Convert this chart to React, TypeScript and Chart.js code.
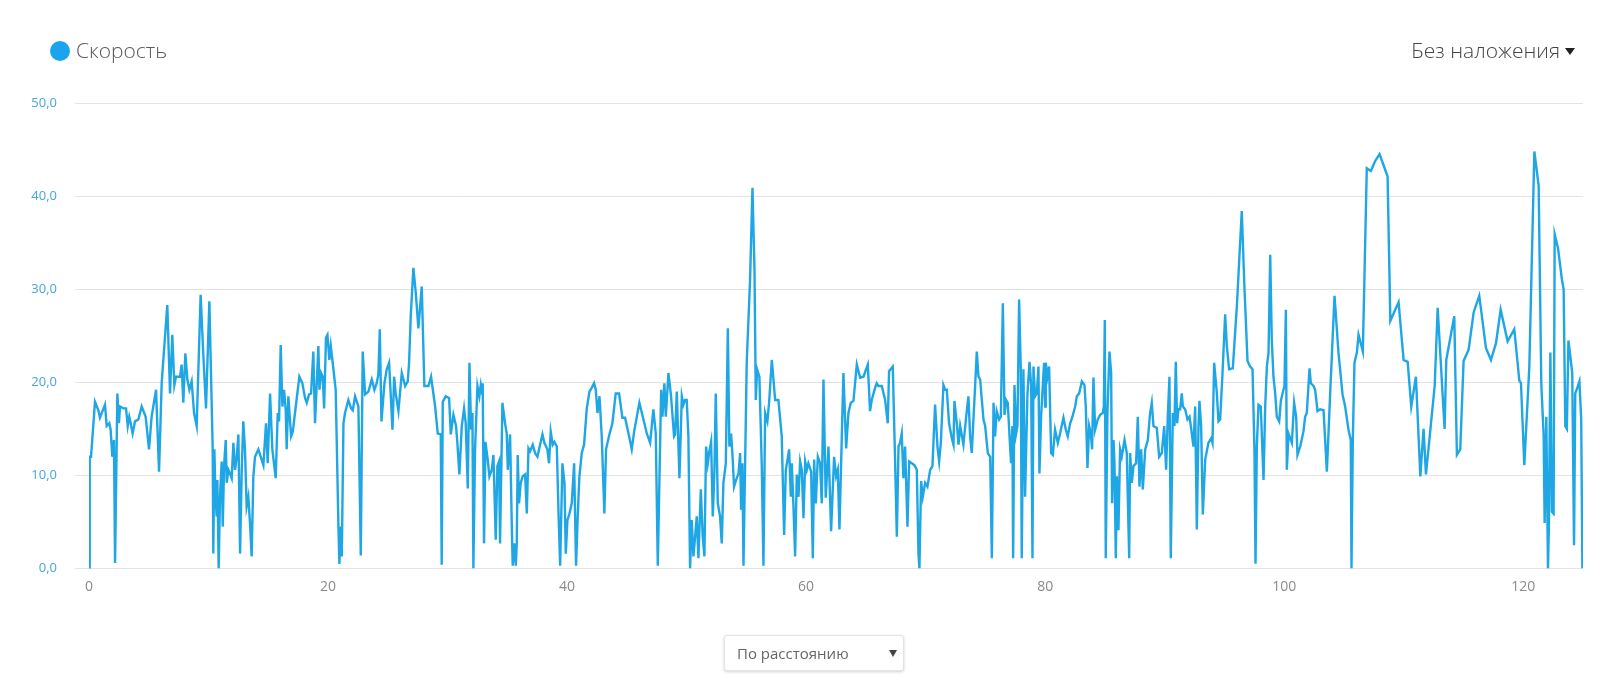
import { useEffect, useRef } from "react";
import { Chart, registerables } from "chart.js";

Chart.register(...registerables);

const seriesLabel = "Скорость";
const overlayLabel = "Без наложения";
const axisModeLabel = "По расстоянию";

const xTickValues = [0, 20, 40, 60, 80, 100, 120];
const yTickValues = [0, 10, 20, 30, 40, 50];

// distance, km
const distanceKm = [
  0.0, 0.06, 0.17, 0.5, 0.78, 0.92, 1.34, 1.48, 1.7, 1.81, 1.95, 2.09, 2.18, 2.32, 2.37, 2.51, 2.59, 2.87, 3.1, 3.24,
  3.37, 3.49, 3.65, 3.85, 4.13, 4.41, 4.74, 5.02, 5.24, 5.61, 5.86, 6.08, 6.55, 6.78, 6.97, 7.14, 7.28, 7.62, 7.75, 7.89,
  8.06, 8.23, 8.4, 8.59, 8.79, 9.01, 9.34, 9.57, 9.79, 10.07, 10.35, 10.4, 10.49, 10.57, 10.68, 10.74, 10.85, 10.96, 11.1, 11.19,
  11.3, 11.44, 11.52, 11.66, 11.8, 11.94, 12.08, 12.22, 12.36, 12.5, 12.64, 12.78, 12.91, 13.05, 13.19, 13.33, 13.47, 13.61, 13.75, 13.89,
  14.17, 14.59, 14.81, 14.95, 15.15, 15.34, 15.62, 15.79, 15.9, 16.04, 16.18, 16.32, 16.46, 16.54, 16.68, 16.91, 17.05, 17.3, 17.6, 17.85,
  18.08, 18.22, 18.41, 18.58, 18.77, 18.91, 19.05, 19.19, 19.28, 19.42, 19.56, 19.67, 19.83, 19.95, 20.11, 20.23, 20.39, 20.64, 20.87, 20.95,
  21.06, 21.15, 21.29, 21.42, 21.7, 21.93, 22.07, 22.26, 22.54, 22.74, 22.9, 23.1, 23.38, 23.66, 23.88, 24.07, 24.21, 24.33, 24.47, 24.72,
  24.91, 25.11, 25.39, 25.53, 25.66, 25.89, 26.17, 26.45, 26.67, 26.78, 26.92, 27.14, 27.34, 27.56, 27.84, 28.06, 28.4, 28.62, 28.96, 29.18,
  29.43, 29.51, 29.6, 29.85, 30.13, 30.27, 30.49, 30.71, 30.82, 30.99, 31.19, 31.38, 31.52, 31.69, 31.83, 31.97, 32.08, 32.16, 32.3, 32.5,
  32.66, 32.78, 32.89, 32.94, 33.05, 33.17, 33.36, 33.5, 33.7, 33.84, 34.03, 34.17, 34.31, 34.39, 34.59, 34.81, 34.95, 35.04, 35.23, 35.37,
  35.45, 35.57, 35.71, 35.79, 35.87, 35.98, 36.12, 36.29, 36.49, 36.63, 36.77, 36.9, 37.13, 37.32, 37.52, 37.74, 37.94, 38.1, 38.35, 38.49,
  38.63, 38.8, 38.94, 39.14, 39.28, 39.42, 39.61, 39.78, 39.89, 40.03, 40.2, 40.39, 40.59, 40.75, 40.89, 41.03, 41.23, 41.42, 41.65, 41.87,
  42.06, 42.26, 42.4, 42.54, 42.71, 42.9, 43.12, 43.26, 43.54, 43.79, 44.07, 44.35, 44.63, 44.85, 45.19, 45.41, 45.61, 46.05, 46.39, 46.67,
  46.95, 47.22, 47.42, 47.59, 47.87, 47.98, 48.14, 48.26, 48.48, 48.7, 48.95, 49.04, 49.18, 49.4, 49.6, 49.73, 49.87, 50.01, 50.15, 50.29,
  50.43, 50.57, 50.71, 50.85, 50.99, 51.19, 51.35, 51.49, 51.63, 51.77, 51.88, 52.05, 52.19, 52.33, 52.44, 52.61, 52.8, 52.94, 53.08, 53.28,
  53.45, 53.58, 53.72, 53.86, 53.97, 54.14, 54.34, 54.48, 54.56, 54.67, 54.76, 55.03, 55.31, 55.51, 55.68, 55.79, 55.9, 56.09, 56.29, 56.43,
  56.57, 56.76, 56.9, 57.13, 57.41, 57.68, 57.96, 58.16, 58.3, 58.58, 58.72, 58.8, 58.94, 59.08, 59.22, 59.36, 59.5, 59.64, 59.78, 59.92,
  60.06, 60.19, 60.42, 60.56, 60.67, 60.81, 60.98, 61.17, 61.31, 61.45, 61.64, 61.87, 62.09, 62.34, 62.51, 62.65, 62.79, 63.12, 63.35, 63.54,
  63.74, 63.96, 64.24, 64.52, 64.8, 65.16, 65.35, 65.49, 65.77, 65.91, 66.05, 66.33, 66.61, 66.83, 66.94, 67.25, 67.45, 67.59, 67.73, 67.86,
  68.0, 68.14, 68.28, 68.48, 68.62, 68.84, 69.06, 69.26, 69.4, 69.48, 69.62, 69.76, 69.96, 70.15, 70.38, 70.57, 70.79, 70.99, 71.13, 71.27,
  71.49, 71.63, 71.77, 71.96, 72.19, 72.33, 72.41, 72.61, 72.75, 72.89, 73.16, 73.39, 73.58, 73.72, 73.86, 74.14, 74.28, 74.42, 74.56, 74.84,
  74.98, 75.2, 75.4, 75.54, 75.68, 75.81, 75.95, 76.15, 76.29, 76.46, 76.6, 76.74, 76.87, 77.07, 77.15, 77.26, 77.32, 77.43, 77.57, 77.68,
  77.82, 77.96, 78.04, 78.18, 78.32, 78.52, 78.69, 78.83, 78.94, 79.02, 79.16, 79.3, 79.44, 79.52, 79.66, 79.8, 79.91, 80.0, 80.05, 80.19,
  80.33, 80.5, 80.64, 80.83, 81.06, 81.25, 81.53, 81.73, 81.89, 82.09, 82.28, 82.51, 82.65, 82.84, 83.07, 83.29, 83.4, 83.54, 83.68, 83.82,
  83.93, 84.04, 84.18, 84.4, 84.6, 84.82, 84.91, 84.99, 85.07, 85.21, 85.38, 85.52, 85.6, 85.72, 85.8, 85.91, 86.0, 86.13, 86.27, 86.41,
  86.64, 86.83, 87.03, 87.11, 87.25, 87.39, 87.61, 87.75, 87.89, 88.03, 88.17, 88.37, 88.59, 88.78, 88.92, 89.06, 89.34, 89.54, 89.76, 89.96,
  90.12, 90.26, 90.4, 90.51, 90.68, 90.82, 90.93, 91.04, 91.15, 91.29, 91.43, 91.52, 91.71, 91.91, 92.08, 92.19, 92.41, 92.55, 92.69, 92.83,
  92.91, 93.05, 93.19, 93.39, 93.66, 93.89, 94.0, 94.14, 94.36, 94.5, 94.64, 94.84, 95.06, 95.2, 95.39, 95.7, 96.04, 96.45, 96.68, 96.93,
  97.15, 97.35, 97.51, 97.6, 97.71, 97.85, 98.04, 98.27, 98.41, 98.55, 98.69, 98.83, 98.96, 99.1, 99.24, 99.38, 99.58, 99.72, 99.88, 100.02,
  100.14, 100.22, 100.36, 100.64, 100.83, 101.0, 101.11, 101.34, 101.61, 101.75, 101.89, 102.12, 102.23, 102.45, 102.59, 102.79, 103.01, 103.29, 103.57, 103.85,
  104.21, 104.54, 104.88, 105.1, 105.38, 105.57, 105.63, 105.74, 105.88, 106.08, 106.22, 106.58, 106.91, 107.25, 107.62, 107.98, 108.65, 108.88, 109.57, 109.99,
  110.33, 110.63, 111.02, 111.39, 111.66, 111.86, 112.59, 112.84, 113.42, 113.56, 114.23, 114.45, 114.73, 115.01, 115.43, 115.85, 116.32, 116.88, 117.3, 117.72,
  118.11, 118.69, 119.25, 119.67, 119.81, 120.09, 120.51, 120.93, 121.29, 121.51, 121.71, 121.79, 121.93, 122.07, 122.15, 122.27, 122.4, 122.54, 122.63, 122.91,
  123.24, 123.38, 123.52, 123.65, 123.78, 123.92, 124.1, 124.25, 124.35, 124.55, 124.7, 124.85, 124.95,
];

// speed, km/h
const speedKmh = [
  0, 12.0, 12.0, 17.9, 17.0, 16.2, 17.6, 15.3, 15.6, 14.9, 12.0, 13.8, 0.6, 13.8, 18.8, 15.6, 17.4, 17.2, 17.2, 15.3,
  16.3, 15.6, 14.5, 15.8, 16.0, 17.4, 16.3, 12.8, 16.3, 19.2, 10.4, 19.9, 28.3, 18.8, 25.1, 19.7, 20.6, 20.6, 21.9, 17.8,
  23.1, 20.3, 19.2, 20.1, 16.7, 15.3, 29.4, 22.8, 17.2, 28.7, 12.8, 1.6, 12.8, 8.4, 5.6, 9.5, 0, 7.7, 11.5, 4.5,
  11.0, 13.8, 9.2, 10.6, 10.2, 9.7, 13.5, 10.6, 12.0, 14.4, 1.6, 10.6, 15.8, 12.8, 6.7, 7.7, 4.9, 1.3, 9.9, 12.0,
  12.8, 11.1, 15.6, 11.3, 18.8, 12.8, 9.7, 16.7, 15.8, 24.0, 17.4, 19.2, 17.0, 12.8, 18.5, 14.2, 14.7, 17.4, 20.6, 19.9,
  18.3, 17.8, 18.7, 18.8, 23.3, 15.6, 19.7, 23.9, 19.2, 21.0, 20.6, 17.2, 24.8, 25.1, 22.4, 23.9, 22.1, 19.2, 4.5, 0.5,
  4.5, 1.3, 15.6, 16.7, 18.1, 17.2, 17.0, 18.5, 17.4, 1.4, 23.3, 18.7, 19.0, 20.3, 19.2, 19.9, 20.8, 25.7, 15.8, 19.9,
  21.4, 22.1, 14.9, 20.6, 18.8, 16.9, 21.0, 19.6, 20.1, 22.1, 27.1, 32.3, 29.6, 25.8, 30.3, 19.6, 19.6, 20.6, 17.4, 14.5,
  14.4, 0.4, 17.9, 18.5, 18.3, 14.4, 16.5, 15.3, 13.5, 10.1, 15.3, 17.2, 15.6, 8.6, 22.1, 14.9, 16.7, 0, 12.8, 19.6,
  18.5, 19.7, 18.8, 19.9, 2.7, 13.6, 11.7, 9.9, 10.6, 12.2, 3.1, 11.0, 11.5, 2.7, 17.8, 15.6, 14.5, 10.6, 14.4, 4.9,
  0.3, 2.7, 0.3, 2.7, 12.2, 7.0, 9.2, 9.9, 10.1, 5.9, 12.9, 12.6, 13.3, 12.4, 12.0, 13.3, 14.4, 13.5, 12.8, 11.3,
  14.7, 13.3, 13.6, 13.1, 6.1, 0.3, 11.3, 9.2, 1.6, 5.2, 5.9, 7.0, 11.3, 0.3, 5.6, 9.9, 12.4, 13.3, 17.2, 19.0,
  19.4, 19.9, 19.2, 16.7, 18.5, 14.2, 5.9, 12.8, 14.4, 15.6, 18.8, 18.8, 16.2, 16.2, 14.2, 12.8, 14.7, 17.8, 16.0, 14.5,
  13.5, 17.1, 14.5, 0.3, 19.2, 16.3, 19.9, 16.3, 21.0, 18.5, 14.2, 14.4, 19.0, 9.7, 18.5, 17.6, 18.1, 18.1, 14.2, 0,
  5.2, 1.3, 3.4, 5.6, 1.1, 8.5, 3.4, 1.3, 13.1, 11.3, 12.4, 13.6, 5.6, 10.6, 18.8, 7.0, 5.6, 2.7, 9.2, 11.3,
  25.8, 13.1, 14.5, 11.7, 8.8, 9.5, 10.2, 12.4, 6.3, 11.3, 0.3, 22.1, 31.0, 40.9, 32.1, 18.1, 21.4, 20.6, 11.0, 0.3,
  16.7, 15.8, 17.8, 22.4, 18.1, 18.1, 14.2, 3.6, 10.6, 12.8, 7.7, 11.3, 6.7, 1.3, 10.1, 7.7, 11.5, 10.6, 5.4, 11.5,
  10.6, 11.3, 10.4, 1.1, 11.7, 7.0, 12.0, 11.3, 7.0, 20.3, 7.6, 13.1, 4.0, 12.0, 9.9, 10.6, 4.2, 21.0, 12.9, 16.7,
  17.8, 18.0, 21.9, 20.5, 20.6, 21.9, 16.9, 18.1, 19.4, 19.9, 19.6, 19.6, 18.1, 15.6, 21.2, 21.7, 11.3, 3.4, 13.1, 13.5,
  14.5, 9.7, 13.1, 4.5, 11.5, 11.3, 11.1, 10.6, 1.6, 0, 9.4, 7.7, 9.2, 8.8, 10.6, 11.0, 17.6, 13.1, 11.5, 13.5,
  19.7, 19.2, 19.2, 15.6, 14.0, 13.3, 18.0, 15.6, 13.3, 15.3, 13.3, 16.3, 18.5, 14.2, 12.4, 19.6, 23.3, 20.6, 20.3, 16.0,
  15.3, 12.4, 12.0, 1.1, 17.8, 14.2, 16.9, 16.0, 16.3, 28.5, 16.5, 18.1, 17.8, 13.0, 11.3, 15.3, 1.1, 19.7, 14.5, 15.3,
  28.9, 21.4, 1.1, 21.4, 7.7, 18.8, 22.2, 19.6, 1.1, 21.7, 18.5, 18.8, 21.7, 10.2, 16.3, 19.6, 22.1, 17.4, 22.1, 20.6,
  21.7, 12.4, 12.2, 14.9, 13.5, 14.5, 16.2, 14.9, 14.2, 15.6, 16.3, 17.4, 18.5, 18.8, 20.1, 19.7, 17.4, 10.8, 15.3, 14.5,
  12.8, 20.5, 14.9, 16.0, 16.5, 16.7, 17.4, 26.7, 1.1, 16.7, 23.3, 21.0, 7.0, 13.8, 11.3, 1.1, 9.9, 4.1, 12.8, 12.0,
  13.8, 12.4, 1.1, 12.4, 9.2, 11.0, 11.3, 16.3, 8.8, 12.8, 8.5, 12.8, 13.8, 16.7, 17.8, 15.3, 15.1, 12.0, 12.4, 15.3,
  10.6, 16.3, 20.6, 1.1, 16.7, 15.3, 22.2, 15.6, 17.1, 17.1, 18.8, 17.4, 17.1, 16.0, 16.3, 15.3, 13.1, 17.4, 4.2, 15.3,
  18.0, 15.3, 5.8, 11.7, 13.5, 14.0, 13.5, 22.1, 18.9, 15.8, 16.0, 21.0, 27.3, 23.9, 21.4, 21.5, 28.2, 38.4, 30.0, 22.3,
  21.7, 21.4, 12.8, 0.5, 13.1, 17.6, 17.4, 9.5, 17.4, 21.7, 23.2, 33.7, 24.6, 20.6, 18.9, 16.3, 15.8, 18.0, 18.9, 19.6,
  27.8, 10.6, 14.5, 13.5, 17.8, 16.3, 12.2, 13.1, 14.7, 16.3, 16.7, 21.5, 19.9, 19.6, 19.2, 16.9, 17.1, 17.0, 10.4, 18.9,
  29.3, 23.2, 18.7, 17.4, 14.9, 13.8, 0, 13.8, 22.1, 23.2, 25.1, 23.3, 43.0, 42.7, 43.8, 44.5, 42.1, 26.6, 28.6, 22.4,
  22.2, 17.4, 20.6, 9.9, 15.0, 10.1, 19.6, 28.0, 15.0, 22.4, 27.1, 12.2, 12.8, 22.3, 23.5, 27.5, 29.3, 23.7, 22.4, 24.2,
  27.8, 24.4, 25.7, 20.2, 19.9, 11.1, 21.7, 44.8, 41.1, 19.9, 14.2, 4.9, 16.3, 0, 4.9, 23.2, 6.1, 5.9, 35.9, 34.4,
  31.0, 30.0, 15.3, 15.0, 24.5, 23.0, 21.0, 2.5, 18.8, 19.5, 20.1, 16.0, 0,
];

const FONT = "'Open Sans', 'Noto Sans', sans-serif";

export default function App() {
  const canvasRef = useRef<HTMLCanvasElement>(null);

  useEffect(() => {
    const canvas = canvasRef.current;
    if (!canvas) return;
    const points = distanceKm.map((x, i) => ({ x, y: speedKmh[i] }));
    const chart = new Chart(canvas, {
      type: "line",
      data: {
        datasets: [
          {
            label: seriesLabel,
            data: points,
            borderColor: "#1fa6e4",
            backgroundColor: "#1fa6e4",
            borderWidth: 2.4,
            pointRadius: 0,
            tension: 0,
            fill: false,
          },
        ],
      },
      options: {
        responsive: false,
        animation: false,
        events: [],
        layout: { padding: { top: 103, right: 17, left: 0, bottom: 0 } },
        plugins: {
          legend: { display: false },
          tooltip: { enabled: false },
        },
        scales: {
          x: {
            type: "linear",
            min: 0,
            max: 125,
            grid: { display: false, drawTicks: false },
            border: { display: false },
            afterBuildTicks: (scale: any) => {
              scale.ticks = xTickValues.map((v) => ({ value: v }));
            },
            afterFit: (scale: any) => {
              scale.height = 112.5;
            },
            ticks: {
              color: "#8a8a8a",
              font: { family: FONT, size: 14 },
              padding: 10,
              maxRotation: 0,
              autoSkip: false,
            },
          },
          y: {
            type: "linear",
            min: 0,
            max: 50,
            afterBuildTicks: (scale: any) => {
              scale.ticks = yTickValues.map((v) => ({ value: v }));
            },
            afterFit: (scale: any) => {
              scale.width = 89;
            },
            grid: { color: "#e3e3e3", lineWidth: 1, tickLength: 14, drawTicks: true },
            border: { display: false },
            ticks: {
              color: "#45a6d9",
              font: { family: FONT, size: 13 },
              padding: 18,
              callback: (v: any) => Number(v).toFixed(1).replace(".", ","),
            },
          },
        },
      },
    });
    return () => chart.destroy();
  }, []);

  return (
    <div
      style={{
        position: "absolute",
        left: 0,
        top: 0,
        width: 1600,
        height: 681,
        background: "#ffffff",
        fontFamily: FONT,
        overflow: "hidden",
      }}
    >
      <canvas
        ref={canvasRef}
        width={1600}
        height={681}
        style={{ position: "absolute", left: 0, top: 0, width: 1600, height: 681 }}
      />
      <div
        style={{
          position: "absolute",
          left: 50,
          top: 41,
          width: 20,
          height: 20,
          borderRadius: "50%",
          background: "#1ba4ee",
        }}
      />
      <div
        style={{
          position: "absolute",
          left: 76,
          top: 35,
          height: 30,
          lineHeight: "30px",
          fontSize: 21,
          fontWeight: 300,
          color: "#5a5a5a",
          whiteSpace: "nowrap",
        }}
      >
        {seriesLabel}
      </div>
      <div
        style={{
          position: "absolute",
          right: 25,
          top: 35,
          height: 30,
          display: "flex",
          alignItems: "center",
          fontSize: 21,
          fontWeight: 300,
          color: "#454545",
          whiteSpace: "nowrap",
        }}
      >
        <span style={{ lineHeight: "30px" }}>{overlayLabel}</span>
        <span
          style={{
            display: "inline-block",
            marginLeft: 5,
            marginTop: 3,
            width: 0,
            height: 0,
            borderLeft: "5px solid transparent",
            borderRight: "5px solid transparent",
            borderTop: "7px solid #222",
          }}
        />
      </div>
      <div
        style={{
          position: "absolute",
          left: 724,
          top: 635,
          width: 180,
          height: 36,
          boxSizing: "border-box",
          border: "1px solid #e4e4e4",
          borderRadius: 3,
          boxShadow: "0 1px 3px rgba(0,0,0,0.18)",
          background: "#fff",
        }}
      >
        <span
          style={{
            position: "absolute",
            left: 12,
            top: 0,
            lineHeight: "34px",
            fontSize: 15,
            color: "#666",
            whiteSpace: "nowrap",
          }}
        >
          {axisModeLabel}
        </span>
        <span
          style={{
            position: "absolute",
            left: 164,
            top: 14,
            width: 0,
            height: 0,
            borderLeft: "4px solid transparent",
            borderRight: "4px solid transparent",
            borderTop: "7px solid #444",
          }}
        />
      </div>
    </div>
  );
}
